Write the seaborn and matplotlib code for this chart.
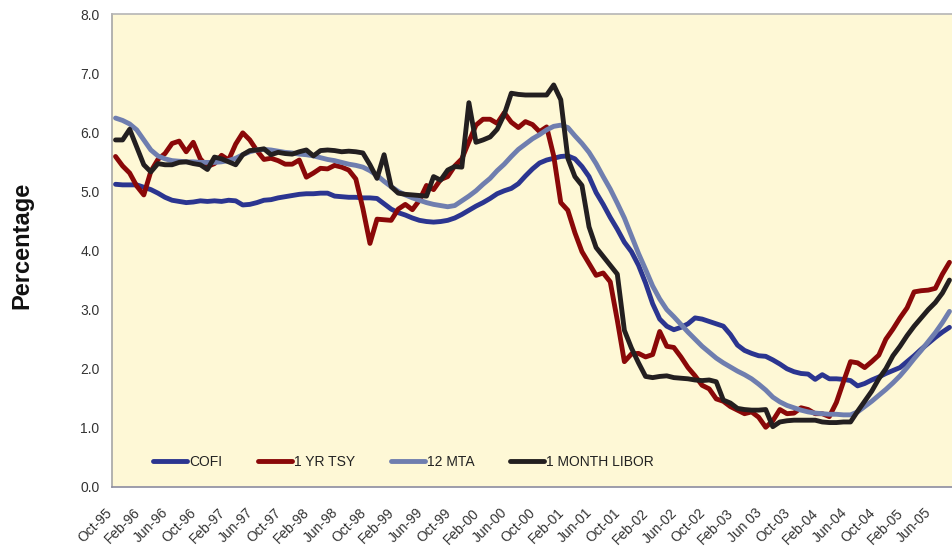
import matplotlib
matplotlib.use("Agg")
import matplotlib.pyplot as plt
import matplotlib.transforms as mtrans
import numpy as np
import pandas as pd
import seaborn as sns

# monthly index rates, Oct-95 .. Aug-05
cofi = [5.12, 5.11, 5.11, 5.11, 5.07, 5.03, 4.97, 4.90, 4.85, 4.83,
        4.81, 4.82, 4.84, 4.83, 4.84, 4.83, 4.85, 4.84, 4.77, 4.78,
        4.81, 4.85, 4.86, 4.89, 4.91, 4.93, 4.95, 4.96, 4.96, 4.97,
        4.97, 4.92, 4.91, 4.90, 4.90, 4.89, 4.89, 4.88, 4.79, 4.70,
        4.64, 4.60, 4.55, 4.51, 4.49, 4.48, 4.49, 4.51, 4.55, 4.61,
        4.68, 4.75, 4.81, 4.88, 4.96, 5.01, 5.05, 5.13, 5.26, 5.38,
        5.48, 5.53, 5.56, 5.59, 5.60, 5.55, 5.42, 5.25, 4.98, 4.78,
        4.56, 4.36, 4.14, 3.98, 3.75, 3.45, 3.10, 2.84, 2.72, 2.66,
        2.70, 2.76, 2.86, 2.84, 2.80, 2.76, 2.72, 2.58, 2.40, 2.31,
        2.26, 2.22, 2.21, 2.15, 2.08, 2.00, 1.95, 1.92, 1.91, 1.82,
        1.90, 1.83, 1.83, 1.82, 1.80, 1.71, 1.75, 1.81, 1.86, 1.92,
        1.97, 2.02, 2.12, 2.22, 2.33, 2.43, 2.53, 2.62, 2.70]

tsy_1yr = [5.59, 5.43, 5.31, 5.09, 4.94, 5.34, 5.54, 5.64, 5.81, 5.85,
           5.67, 5.83, 5.55, 5.42, 5.47, 5.61, 5.53, 5.80, 5.99, 5.87,
           5.69, 5.54, 5.56, 5.52, 5.46, 5.46, 5.53, 5.24, 5.31, 5.39,
           5.38, 5.44, 5.41, 5.36, 5.21, 4.71, 4.12, 4.53, 4.52, 4.51,
           4.70, 4.78, 4.69, 4.85, 5.10, 5.03, 5.20, 5.25, 5.43, 5.55,
           5.84, 6.12, 6.22, 6.22, 6.15, 6.33, 6.17, 6.08, 6.18, 6.13,
           6.01, 6.09, 5.60, 4.81, 4.68, 4.30, 3.98, 3.78, 3.58, 3.62,
           3.47, 2.82, 2.12, 2.25, 2.26, 2.20, 2.24, 2.63, 2.38, 2.36,
           2.20, 2.02, 1.88, 1.72, 1.66, 1.49, 1.45, 1.36, 1.30, 1.24,
           1.27, 1.18, 1.01, 1.12, 1.31, 1.24, 1.25, 1.34, 1.31, 1.24,
           1.24, 1.19, 1.43, 1.78, 2.12, 2.10, 2.02, 2.12, 2.23, 2.50,
           2.67, 2.86, 3.03, 3.30, 3.32, 3.33, 3.36, 3.60, 3.80]

mta_12 = [6.24, 6.20, 6.14, 6.04, 5.87, 5.70, 5.60, 5.55, 5.52, 5.51,
          5.50, 5.50, 5.49, 5.49, 5.49, 5.50, 5.52, 5.56, 5.62, 5.67,
          5.70, 5.71, 5.70, 5.68, 5.66, 5.65, 5.63, 5.62, 5.60, 5.57,
          5.54, 5.52, 5.49, 5.46, 5.44, 5.41, 5.35, 5.27, 5.17, 5.08,
          5.00, 4.94, 4.89, 4.85, 4.81, 4.78, 4.76, 4.74, 4.76, 4.84,
          4.92, 5.01, 5.12, 5.22, 5.35, 5.46, 5.59, 5.71, 5.80, 5.89,
          5.96, 6.04, 6.10, 6.12, 6.08, 5.94, 5.81, 5.66, 5.47, 5.25,
          5.04, 4.80, 4.55, 4.25, 3.95, 3.68, 3.40, 3.18, 3.00, 2.88,
          2.75, 2.62, 2.50, 2.38, 2.28, 2.18, 2.10, 2.03, 1.96, 1.90,
          1.83, 1.74, 1.64, 1.52, 1.44, 1.38, 1.34, 1.30, 1.27, 1.25,
          1.24, 1.23, 1.23, 1.22, 1.22, 1.27, 1.36, 1.45, 1.55, 1.65,
          1.76, 1.88, 2.02, 2.17, 2.31, 2.46, 2.61, 2.78, 2.97]

libor_1m = [5.87, 5.87, 6.05, 5.75, 5.45, 5.33, 5.47, 5.45, 5.45, 5.49,
            5.50, 5.47, 5.45, 5.37, 5.58, 5.55, 5.50, 5.45, 5.62, 5.69,
            5.70, 5.72, 5.62, 5.66, 5.64, 5.63, 5.67, 5.70, 5.60, 5.69,
            5.70, 5.69, 5.67, 5.68, 5.67, 5.65, 5.45, 5.22, 5.62, 5.08,
            4.97, 4.95, 4.94, 4.93, 4.92, 5.25, 5.19, 5.36, 5.42, 5.41,
            6.50, 5.83, 5.87, 5.92, 6.05, 6.30, 6.66, 6.64, 6.63, 6.63,
            6.63, 6.63, 6.80, 6.55, 5.56, 5.25, 5.10, 4.40, 4.05, 3.90,
            3.75, 3.60, 2.65, 2.35, 2.10, 1.87, 1.85, 1.87, 1.88, 1.85,
            1.84, 1.83, 1.81, 1.80, 1.81, 1.78, 1.47, 1.42, 1.33, 1.31,
            1.30, 1.30, 1.31, 1.02, 1.10, 1.12, 1.13, 1.13, 1.13, 1.13,
            1.10, 1.09, 1.09, 1.10, 1.10, 1.28, 1.45, 1.62, 1.83, 2.00,
            2.22, 2.38, 2.56, 2.72, 2.86, 3.00, 3.12, 3.28, 3.50]

series_names = ["COFI", "1 YR TSY", "12 MTA", "1 MONTH LIBOR"]
series_colors = ["#2B3590", "#8A0808", "#6F7EAF", "#231F20"]

tick_labels = ["Oct-95", "Feb-96", "Jun-96", "Oct-96", "Feb-97", "Jun-97",
               "Oct-97", "Feb-98", "Jun-98", "Oct-98", "Feb-99", "Jun-99",
               "Oct-99", "Feb-00", "Jun-00", "Oct-00", "Feb-01", "Jun-01",
               "Oct-01", "Feb-02", "Jun-02", "Oct-02", "Feb-03", "Jun 03",
               "Oct-03", "Feb-04", "Jun-04", "Oct-04", "Feb-05", "Jun-05"]


def main():
    sns.set_theme(style="white")
    plt.rcParams["font.family"] = ["Liberation Sans", "DejaVu Sans"]

    frames = []
    for name, vals in zip(series_names, [cofi, tsy_1yr, mta_12, libor_1m]):
        frames.append(pd.DataFrame({"month": np.arange(len(vals)),
                                    "rate": vals, "index": name}))
    data = pd.concat(frames, ignore_index=True)

    fig = plt.figure(figsize=(9.53, 5.48), dpi=100)
    W, H = 953.0, 548.0
    ax = fig.add_axes([112 / W, 61 / H, 841 / W, 473 / H])
    ax.set_facecolor("#FEF8D6")

    sns.lineplot(data=data, x="month", y="rate", hue="index",
                 hue_order=series_names, palette=series_colors,
                 linewidth=3.5, ax=ax, legend=True)

    n = len(cofi)
    ax.set_xlim(-0.5, n - 0.5)
    ax.set_ylim(0, 8)
    ax.set_yticks(np.arange(0, 9, 1))
    ax.set_yticklabels(["%.1f" % v for v in np.arange(0, 9, 1)])
    ax.set_xticks(np.arange(0, n, 4)[:len(tick_labels)])
    ax.set_xticklabels(tick_labels)
    ax.set_xlabel("")
    ax.set_ylabel("")
    ax.grid(False)

    ax.tick_params(axis="y", length=0, pad=9, labelsize=10, labelcolor="#333333")
    ax.tick_params(axis="x", length=0, pad=17, labelsize=10, labelcolor="#333333")
    shift = mtrans.ScaledTranslation(-6 / 100, 0, fig.dpi_scale_trans)
    for lab in ax.get_xticklabels():
        lab.set_rotation(45)
        lab.set_ha("right")
        lab.set_va("center")
        lab.set_rotation_mode("anchor")
        lab.set_transform(lab.get_transform() + shift)

    ax.spines["right"].set_visible(False)
    ax.spines["left"].set_color("#A6A6A6")
    ax.spines["left"].set_linewidth(1.2)
    ax.spines["top"].set_color("#B5B5B5")
    ax.spines["top"].set_linewidth(1.2)
    ax.spines["bottom"].set_color("#8C8CA0")
    ax.spines["bottom"].set_linewidth(1.2)

    handles, labels = ax.get_legend_handles_labels()
    ax.get_legend().remove()
    leg = ax.legend(handles, labels, ncol=4, frameon=False,
                    loc="center left", bbox_to_anchor=(0.049, 0.053),
                    borderaxespad=0, borderpad=0, handlelength=2.45,
                    handletextpad=0.15, columnspacing=2.55,
                    fontsize=10)
    for h in leg.get_lines():
        h.set_linewidth(3.5)
    for t in leg.get_texts():
        t.set_color("#222222")

    fig.text(22 / W, 1 - 245 / H, "Percentage", rotation=90, ha="center",
             va="center", fontsize=17, fontweight="bold", color="#111111")

    fig.savefig("out.png", dpi=100, facecolor="white")


if __name__ == "__main__":
    main()
